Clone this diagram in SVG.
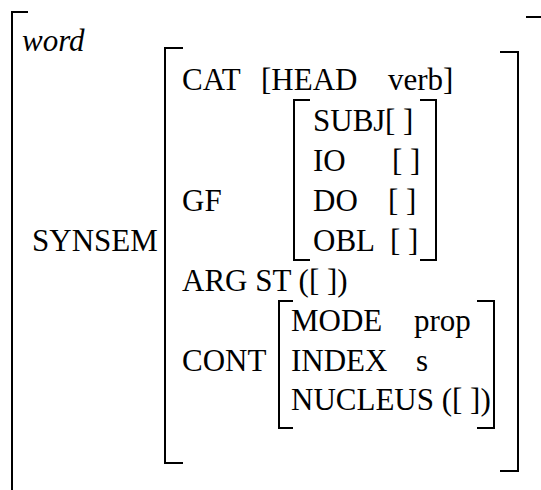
<svg xmlns="http://www.w3.org/2000/svg" width="541" height="490" viewBox="0 0 541 490">
<style>
.t{font-family:"Liberation Serif","Times New Roman",serif;font-size:31px;fill:#000}
.i{font-style:italic}
.b{fill:none;stroke:#000;stroke-width:2}
</style>
<rect width="541" height="490" fill="#fff"/>
<g id="outer">
<path class="b" d="M28,12 H12 V490"/>
<path class="b" d="M526,17 H541"/>
<text class="t i" x="22" y="51">word</text>
<text class="t" x="32" y="251">SYNSEM</text>
</g>
<g id="synsem">
<path class="b" d="M183,48 H165 V463 H183"/>
<path class="b" d="M500,52 H518 V471 H500"/>
<text class="t" x="182" y="90">CAT<tspan x="261">[HEAD</tspan><tspan x="388">verb]</tspan></text>
<text class="t" x="182" y="211">GF</text>
<text class="t" x="182" y="291">ARG ST ([ ])</text>
<text class="t" x="182" y="371">CONT</text>
</g>
<g id="gf">
<path class="b" d="M310,100 H294 V260 H310"/>
<path class="b" d="M420,100 H436 V260 H420"/>
<text class="t" x="313" y="131">SUBJ<tspan x="385">[ ]</tspan></text>
<text class="t" x="313" y="171">IO<tspan x="392">[ ]</tspan></text>
<text class="t" x="313" y="211">DO<tspan x="388">[ ]</tspan></text>
<text class="t" x="313" y="251">OBL<tspan x="390">[ ]</tspan></text>
</g>
<g id="cont">
<path class="b" d="M293,301 H279 V428 H293"/>
<path class="b" d="M477,301 H494 V428 H477"/>
<text class="t" x="291" y="331">MODE<tspan x="414">prop</tspan></text>
<text class="t" x="291" y="371">INDEX<tspan x="416">s</tspan></text>
<text class="t" x="291" y="410">NUCLEUS ([ ])</text>
</g>
<g id="connectors"/>
</svg>
